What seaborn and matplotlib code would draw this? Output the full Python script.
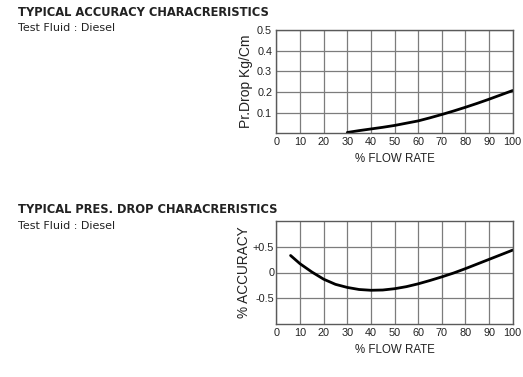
import matplotlib
matplotlib.use("Agg")
import matplotlib.pyplot as plt
import seaborn as sns
import pandas as pd

sns.set_style("white")
plt.rcParams['font.family'] = ['Liberation Sans', 'DejaVu Sans']

# Data
flow_drop = [30, 35, 40, 45, 50, 55, 60, 65, 70, 75, 80, 85, 90, 95, 100]
pres_drop = [0.004, 0.013, 0.021, 0.029, 0.038, 0.049, 0.060, 0.075, 0.091,
             0.108, 0.126, 0.145, 0.165, 0.186, 0.207]

flow_acc = [6, 10, 15, 20, 25, 30, 35, 40, 45, 50, 55, 60, 65, 70, 75, 80,
            85, 90, 95, 100]
accuracy = [0.33, 0.17, 0.01, -0.13, -0.23, -0.29, -0.33, -0.345, -0.34,
            -0.315, -0.275, -0.22, -0.155, -0.085, -0.01, 0.075, 0.165,
            0.255, 0.345, 0.435]

x_ticks = [0, 10, 20, 30, 40, 50, 60, 70, 80, 90, 100]
top_yticks = [0.1, 0.2, 0.3, 0.4, 0.5]
top_ylabels = ["0.1", "0.2", "0.3", "0.4", "0.5"]
bot_yticks = [-0.5, 0, 0.5]
bot_ylabels = ["-0.5", "0", "+0.5"]

title1 = "TYPICAL ACCURACY CHARACRERISTICS"
title2 = "TYPICAL PRES. DROP CHARACRERISTICS"
subtitle = "Test Fluid : Diesel"

fig = plt.figure(figsize=(5.23, 3.77), dpi=100)
W, H = 523, 377

def style_axes(ax, ymin, ymax, yticks, ylabels, ylabel, ylsize, ylx, ypad):
    ax.set_xlim(0, 100)
    ax.set_ylim(ymin, ymax)
    ax.set_xticks(x_ticks)
    ax.set_xticklabels([str(v) for v in x_ticks])
    ax.set_yticks(yticks)
    ax.set_yticklabels(ylabels)
    ax.grid(True, color="#7c7c7c", linewidth=0.9)
    ax.set_axisbelow(True)
    for s in ax.spines.values():
        s.set_color("#5a5a5a")
        s.set_linewidth(1.0)
    ax.tick_params(axis="both", length=0, labelsize=7.8, colors="#222222", pad=3)
    ax.tick_params(axis="y", pad=ypad)
    ax.set_xlabel("% FLOW RATE", fontsize=8.3, color="#222222", labelpad=4)
    ax.set_ylabel(ylabel, fontsize=ylsize, color="#222222")
    ax.yaxis.set_label_coords(ylx, 0.5)

# Top chart
ax1 = fig.add_axes([276.4 / W, 1 - 133.3 / H, (512.7 - 276.4) / W, (133.3 - 30) / H])
df1 = pd.DataFrame({"flow": flow_drop, "drop": pres_drop})
sns.lineplot(data=df1, x="flow", y="drop", ax=ax1, color="black", linewidth=2.0)
style_axes(ax1, 0, 0.5, top_yticks, top_ylabels, "Pr.Drop Kg/Cm", 10, -0.097, 3)

# Bottom chart
ax2 = fig.add_axes([276.4 / W, 1 - 324 / H, (512.7 - 276.4) / W, (324 - 221) / H])
df2 = pd.DataFrame({"flow": flow_acc, "acc": accuracy})
sns.lineplot(data=df2, x="flow", y="acc", ax=ax2, color="black", linewidth=2.0)
style_axes(ax2, -1.0, 1.0, bot_yticks, bot_ylabels, "% ACCURACY", 9.8, -0.108, 1.5)

# Titles
fig.text(18 / W, 1 - 12 / H, title1, fontsize=8.3, fontweight="bold",
         family=["DejaVu Sans"], color="#222222", va="center", ha="left")
fig.text(18 / W, 1 - 28 / H, subtitle, fontsize=8, family=["DejaVu Sans"],
         color="#222222", va="center", ha="left")
fig.text(18 / W, 1 - 209 / H, title2, fontsize=8.3, fontweight="bold",
         family=["DejaVu Sans"], color="#222222", va="center", ha="left")
fig.text(18 / W, 1 - 226 / H, subtitle, fontsize=8, family=["DejaVu Sans"],
         color="#222222", va="center", ha="left")

fig.savefig("out.png", dpi=100, facecolor="white")
